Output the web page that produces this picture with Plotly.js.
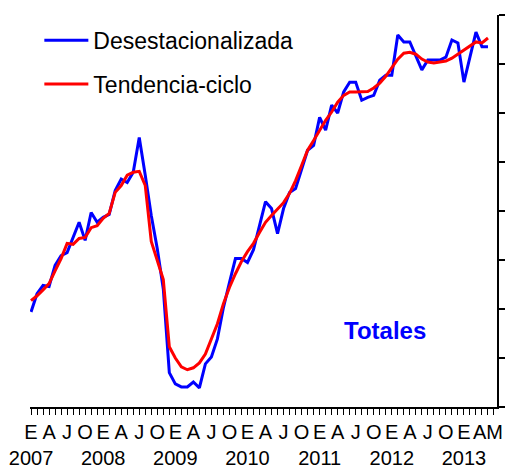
<!DOCTYPE html>
<html>
<head>
<meta charset="utf-8">
<script src="https://cdn.plot.ly/plotly-3.0.1.min.js"></script>
<style>
  html, body { margin: 0; padding: 0; background: #ffffff; }
  #chart { width: 508px; height: 473px; }
</style>
</head>
<body>
<div id="chart"></div>
<script>
// Monthly periods, January 2007 to May 2013
const periods = [
  "2007-01","2007-02","2007-03","2007-04","2007-05","2007-06","2007-07","2007-08","2007-09","2007-10","2007-11","2007-12",
  "2008-01","2008-02","2008-03","2008-04","2008-05","2008-06","2008-07","2008-08","2008-09","2008-10","2008-11","2008-12",
  "2009-01","2009-02","2009-03","2009-04","2009-05","2009-06","2009-07","2009-08","2009-09","2009-10","2009-11","2009-12",
  "2010-01","2010-02","2010-03","2010-04","2010-05","2010-06","2010-07","2010-08","2010-09","2010-10","2010-11","2010-12",
  "2011-01","2011-02","2011-03","2011-04","2011-05","2011-06","2011-07","2011-08","2011-09","2011-10","2011-11","2011-12",
  "2012-01","2012-02","2012-03","2012-04","2012-05","2012-06","2012-07","2012-08","2012-09","2012-10","2012-11","2012-12",
  "2013-01","2013-02","2013-03","2013-04","2013-05"
];

// Seasonally adjusted series (axis units unlabelled)
const desestacionalizada = [
  19.4, 23.1, 24.8, 24.6, 28.9, 30.9, 31.5, 34.6, 37.7, 34.0, 39.7, 37.7,
  38.7, 39.3, 44.2, 46.5, 45.8, 47.9, 55.0, 47.3, 39.1, 32.3, 24.1, 7.0,
  4.7, 4.1, 4.1, 5.1, 3.9, 8.8, 10.2, 13.9, 20.3, 25.4, 30.3, 30.3,
  29.5, 32.1, 37.0, 41.9, 40.5, 35.4, 40.5, 43.8, 44.6, 48.5, 52.4, 53.4,
  59.1, 56.5, 61.6, 60.0, 64.3, 66.3, 66.3, 62.6, 63.2, 63.6, 66.7, 67.7,
  67.7, 75.9, 74.5, 74.5, 71.6, 68.8, 70.8, 70.8, 70.8, 71.4, 74.9, 74.3,
  66.3, 71.4, 76.5, 73.5, 73.5
];

// Trend-cycle series
const tendenciaCiclo = [
  21.7, 22.7, 23.9, 25.2, 27.8, 30.3, 33.4, 33.2, 34.4, 34.6, 36.6, 37.0,
  38.5, 39.5, 43.8, 45.2, 47.3, 47.9, 48.1, 45.2, 33.8, 29.7, 26.0, 12.3,
  10.0, 8.2, 7.6, 8.0, 9.0, 10.8, 14.1, 17.0, 21.1, 24.4, 27.2, 29.7,
  31.7, 33.4, 35.6, 37.7, 39.1, 40.5, 41.7, 43.6, 46.2, 49.3, 52.4, 54.4,
  56.5, 58.5, 60.2, 62.2, 63.6, 64.3, 64.3, 64.3, 64.4, 65.1, 66.1, 67.5,
  69.2, 71.0, 72.2, 72.4, 72.0, 71.0, 70.4, 70.2, 70.4, 70.6, 71.2, 72.0,
  72.8, 73.7, 74.5, 74.3, 75.3
];

// Axis labels (month initials every quarter, year below January; last label "AM")
const tickPositions = [0,3,6,9,12,15,18,21,24,27,30,33,36,39,42,45,48,51,54,57,60,63,66,69,72,76];
const tickLabels = [
  "E<br>2007","A","J","O","E<br>2008","A","J","O","E<br>2009","A","J","O",
  "E<br>2010","A","J","O","E<br>2011","A","J","O","E<br>2012","A","J","O",
  "E<br>2013","AM"
];

const seriesNames = ["Desestacionalizada", "Tendencia-ciclo"];
const panelLabel = "Totales";

const xIdx = periods.map((_, i) => i);
const FONT = "Liberation Sans, Arial, sans-serif";

const traces = [
  {
    x: xIdx, y: desestacionalizada, type: "scatter", mode: "lines",
    name: seriesNames[0], legend: "legend",
    line: { color: "#0000FF", width: 3 },
    text: periods, hoverinfo: "text+y"
  },
  {
    x: xIdx, y: tendenciaCiclo, type: "scatter", mode: "lines",
    name: seriesNames[1], legend: "legend2",
    line: { color: "#FF0000", width: 3 },
    text: periods, hoverinfo: "text+y"
  }
];

const layout = {
  width: 508, height: 473,
  margin: { l: 30, r: 11, t: 15, b: 66, pad: 0 },
  paper_bgcolor: "#ffffff", plot_bgcolor: "#ffffff",
  font: { family: FONT, size: 20, color: "#000000" },
  showlegend: true,
  xaxis: {
    range: [-0.17, 77.5],
    showgrid: false, zeroline: false,
    showline: true, linecolor: "#000000", linewidth: 2,
    ticks: "outside", ticklen: 6, tickwidth: 1, tickcolor: "#000000",
    tickmode: "array", tickvals: tickPositions, ticktext: tickLabels,
    tickangle: 0,
    tickfont: { family: FONT, size: 20, color: "#000000" },
    minor: { tickmode: "linear", tick0: 0, dtick: 1, ticks: "outside", ticklen: 6, tickwidth: 1, tickcolor: "#000000", showgrid: false },
    fixedrange: true
  },
  yaxis: {
    range: [0, 80], side: "right",
    showgrid: false, zeroline: false,
    showline: true, linecolor: "#000000", linewidth: 2,
    ticks: "outside", ticklen: 6, tickwidth: 1.5, tickcolor: "#000000",
    tickmode: "linear", tick0: 0, dtick: 10,
    showticklabels: false,
    fixedrange: true
  },
  legend: {
    x: 0.02, y: 0.99, xanchor: "left", yanchor: "top",
    bgcolor: "rgba(0,0,0,0)", borderwidth: 0,
    font: { family: FONT, size: 23, color: "#000000" },
    itemwidth: 44
  },
  legend2: {
    x: 0.02, y: 0.879, xanchor: "left", yanchor: "top",
    bgcolor: "rgba(0,0,0,0)", borderwidth: 0,
    font: { family: FONT, size: 23, color: "#000000" },
    itemwidth: 44
  },
  annotations: [
    {
      text: "<b>" + panelLabel + "</b>",
      xref: "paper", yref: "paper", x: 0.76, y: 0.196,
      xanchor: "center", yanchor: "middle", showarrow: false,
      font: { family: FONT, size: 24, color: "#0000FF" }
    }
  ]
};

Plotly.newPlot("chart", traces, layout, { displayModeBar: false, staticPlot: true });
</script>
</body>
</html>
